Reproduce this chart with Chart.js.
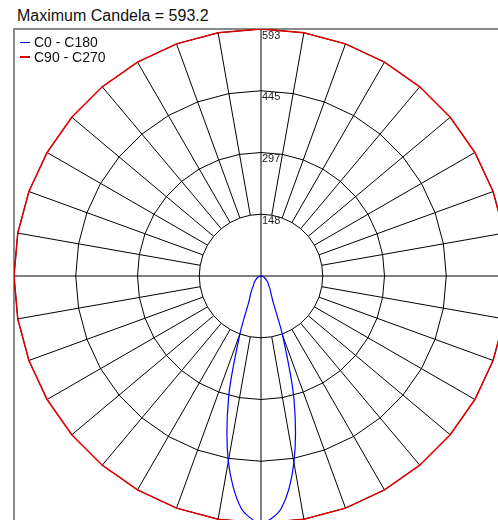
<!DOCTYPE html>
<html><head><meta charset="utf-8">
<script src="https://cdn.jsdelivr.net/npm/chart.js@4/dist/chart.umd.min.js"></script>
<style>
html,body{margin:0;padding:0;width:498px;height:520px;overflow:hidden;background:#fff;font-family:"Liberation Sans",Arial,sans-serif;}
#title{position:absolute;left:17px;top:8px;font-size:16px;line-height:16px;color:#111;white-space:nowrap;}
#frame{position:absolute;left:13px;top:28px;width:600px;height:600px;border-left:2px solid #8a8a8a;border-top:2px solid #8a8a8a;}
#wrap{position:absolute;left:14px;top:29px;width:494px;height:494px;}
#legend{position:absolute;left:20px;top:35px;font-size:14px;color:#111;}
.item{display:flex;align-items:center;height:14.7px;white-space:nowrap;}
.sw{display:inline-block;width:10px;height:1.5px;margin-right:4px;}
</style></head>
<body>
<div id="title"></div>
<div id="frame"></div>
<div id="wrap"><canvas id="c" width="494" height="494"></canvas></div>
<div id="legend"></div>
<script>
// ---- data ----
const maxCandela = 593.2;
const gammaAngles = [0,5,10,15,20,25,30,35,40,45,50,55,60,65,70,75,80,85,90,95,100,105,110,115,120,125,130,135,140,145,150,155,160,165,170,175,180];
const c0Values   = [593.2,560,455,306,152,68,48,37,28,24,19,15,12,9,6,4,3,1,0,0,0,0,0,0,0,0,0,0,0,0,0,0,0,0,0,0,0];
const c180Values = [593.2,558,452,300,148,70,50,37,27,24,19,15,12,9,6,4,3,1,0,0,0,0,0,0,0,0,0,0,0,0,0,0,0,0,0,0,0];
const gammaAngles10 = [0,10,20,30,40,50,60,70,80,90,100,110,120,130,140,150,160,170,180];
const c90Values  = [593.2,593.2,593.2,593.2,593.2,593.2,593.2,593.2,593.2,593.2,593.2,593.2,593.2,593.2,593.2,593.2,593.2,593.2,593.2];
const c270Values = [593.2,593.2,593.2,593.2,593.2,593.2,593.2,593.2,593.2,593.2,593.2,593.2,593.2,593.2,593.2,593.2,593.2,593.2,593.2];
const tickValues = [148.3,296.6,444.9,593.2];
const tickLabels = ['148','297','445','593'];
const seriesNames = ['C0 - C180','C90 - C270'];
const seriesColors = ['#0000ff','#e00000'];

// ---- build the 360° loop (5° label steps, 0 at nadir, clockwise) ----
const STEP = 5, N = 360/STEP, HALF = N/2;
const labels = Array.from({length:N},(_, i)=>String(i*STEP));
function loop(rightVals, leftVals, angles){
  const out = new Array(N).fill(null);
  leftVals.forEach((v,j)=>{ out[angles[j]/STEP] = v; });
  rightVals.forEach((v,j)=>{ const k = angles[j]/STEP; if (k>0 && k<HALF) out[N-k] = v; });
  return out;
}

const polarGrid = {
  id:'polarGrid',
  beforeDatasetsDraw(chart){
    const s = chart.scales.r, ctx = chart.ctx;
    ctx.save();
    ctx.strokeStyle = '#000'; ctx.lineWidth = 1;
    tickValues.forEach(v=>{
      ctx.beginPath();
      for (let i=0;i<N;i+=2){ const p = s.getPointPositionForValue(i, v); if(i===0) ctx.moveTo(p.x,p.y); else ctx.lineTo(p.x,p.y); }
      ctx.closePath(); ctx.stroke();
    });
    for (let i=0;i<N;i+=2){
      const full = i % (N/4) === 0;
      const a = s.getPointPositionForValue(i, full ? 0 : tickValues[0]);
      const b = s.getPointPositionForValue(i, maxCandela);
      ctx.beginPath(); ctx.moveTo(a.x,a.y); ctx.lineTo(b.x,b.y); ctx.stroke();
    }
    ctx.restore();
  },
  afterDatasetsDraw(chart){
    const s = chart.scales.r, ctx = chart.ctx;
    ctx.save();
    ctx.fillStyle = '#222';
    ctx.font = '11px "Liberation Sans", Arial, sans-serif';
    ctx.textAlign = 'left'; ctx.textBaseline = 'top';
    tickValues.forEach((v,j)=>{
      const p = s.getPointPositionForValue(HALF, v);
      ctx.fillText(tickLabels[j], p.x+1, p.y+1);
    });
    ctx.restore();
  }
};

const chart = new Chart(document.getElementById('c'), {
  type:'radar',
  data:{
    labels,
    datasets:[
      {label:seriesNames[0], data:loop(c0Values, c180Values, gammaAngles), borderColor:seriesColors[0], borderWidth:1.2, fill:false, pointRadius:0, tension:0.3},
      {label:seriesNames[1], data:loop(c90Values, c270Values, gammaAngles10), borderColor:seriesColors[1], borderWidth:1.5, fill:false, pointRadius:0, spanGaps:true, tension:0}
    ]
  },
  options:{
    responsive:false, animation:false,
    layout:{padding:0},
    plugins:{legend:{display:false}, tooltip:{enabled:false}, title:{display:false}},
    scales:{ r:{ min:0, max:maxCandela, startAngle:180,
      ticks:{display:false, stepSize:148.3}, grid:{display:false}, angleLines:{display:false}, pointLabels:{display:false} } }
  },
  plugins:[polarGrid]
});

document.getElementById('title').textContent = 'Maximum Candela = ' + maxCandela.toFixed(1);
const lg = document.getElementById('legend');
chart.data.datasets.forEach(d=>{
  const it = document.createElement('div'); it.className='item';
  const sw = document.createElement('span'); sw.className='sw'; sw.style.backgroundColor = d.borderColor;
  const tx = document.createElement('span'); tx.textContent = d.label;
  it.appendChild(sw); it.appendChild(tx); lg.appendChild(it);
});
</script>
</body></html>
